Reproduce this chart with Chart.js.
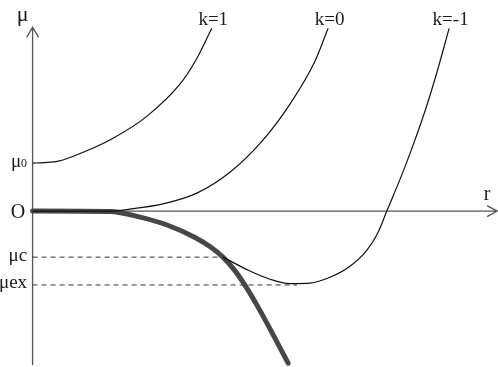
<!DOCTYPE html>
<html>
<head>
<meta charset="utf-8">
<script src="https://cdn.jsdelivr.net/npm/chart.js@4.4.0/dist/chart.umd.min.js"></script>
<style>
  html, body { margin: 0; padding: 0; background: #fff; }
  #wrap { width: 498px; height: 367px; }
</style>
</head>
<body>
<div id="wrap"><canvas id="mu"></canvas></div>
<script>
// values (r along x, mu along y, mu0 = 1)
const rK1 = [0, 0.25, 0.55, 1.02, 1.73, 2.46, 3.17, 3.51, 3.85];
const muK1 = [1.0, 1.01, 1.04, 1.2, 1.52, 1.98, 2.65, 3.15, 3.81];

const rK0 = [0, 1.0, 1.66, 2.09, 2.8, 3.53, 4.24, 4.95, 5.53, 6.07, 6.35];
const muK0 = [0, 0, 0, 0.04, 0.15, 0.375, 0.81, 1.48, 2.23, 3.13, 3.81];

const rKm1 = [4.09, 4.67, 5.1, 5.53, 5.96, 6.39, 6.82, 7.18, 7.42, 7.61, 7.89, 8.17, 8.43, 8.69, 8.95];
const muKm1 = [-0.96, -1.25, -1.42, -1.51, -1.5, -1.38, -1.15, -0.82, -0.45, 0, 0.65, 1.36, 2.08, 2.9, 3.81];

// thick boundary curve
const rEdge = [0, 1.66, 2.31, 2.89, 3.49, 3.81, 4.09, 4.33, 4.56, 4.89, 5.17, 5.49];
const muEdge = [0, -0.01, -0.125, -0.29, -0.55, -0.74, -0.96, -1.22, -1.54, -2.08, -2.58, -3.17];

const muC = -0.96;
const muEx = -1.54;
const rC = 4.09;    // where k=-1 leaves the thick curve
const rEx = 5.68;   // end of the mu_ex guide

const curveLabels = ["k=1", "k=0", "k=-1"];
const curveTops = [[3.85, 3.81], [6.35, 3.81], [8.95, 3.81]];

const tickValues = [1, 0, muC, muEx];
const tickMain = ["\u03bc", "O", "\u03bcc", "\u03bcex"];
const tickSub = ["0", "", "", ""];

const rMax = 9.98;
const muTop = 3.83;
const muBottom = -3.21;

const pts = (xs, ys) => xs.map((x, i) => ({ x: x, y: ys[i] }));

const serif = "'Liberation Serif', 'Times New Roman', serif";

const axesPlugin = {
  id: "axes",
  beforeDatasetsDraw(chart) {
    const ctx = chart.ctx;
    const xs = chart.scales.x, ys = chart.scales.y;
    const x0 = xs.getPixelForValue(0), y0 = ys.getPixelForValue(0);
    const xEnd = xs.getPixelForValue(rMax);
    const yTop = ys.getPixelForValue(muTop), yBot = ys.getPixelForValue(muBottom);
    ctx.save();
    ctx.strokeStyle = "#555";
    ctx.lineWidth = 1.3;
    ctx.beginPath();
    ctx.moveTo(x0, yBot); ctx.lineTo(x0, yTop);
    ctx.moveTo(x0 - 6, yTop + 10); ctx.lineTo(x0, yTop); ctx.lineTo(x0 + 6, yTop + 10);
    ctx.moveTo(x0, y0); ctx.lineTo(xEnd, y0);
    ctx.moveTo(xEnd - 10, y0 - 5.5); ctx.lineTo(xEnd, y0); ctx.lineTo(xEnd - 10, y0 + 5.5);
    ctx.stroke();
    ctx.restore();
  },
  afterDatasetsDraw(chart) {
    const ctx = chart.ctx;
    const xs = chart.scales.x, ys = chart.scales.y;
    const x0 = xs.getPixelForValue(0), y0 = ys.getPixelForValue(0);
    ctx.save();
    ctx.fillStyle = "#1a1a1a";
    ctx.textBaseline = "alphabetic";

    // axis names
    ctx.font = "22px " + serif;
    ctx.textAlign = "center";
    ctx.fillText("\u03bc", x0 - 10, ys.getPixelForValue(muTop) - 6);
    ctx.font = "20px " + serif;
    ctx.fillText("r", xs.getPixelForValue(rMax) - 10, y0 - 11);

    // curve names
    ctx.font = "19px " + serif;
    curveLabels.forEach((t, i) => {
      ctx.fillText(t, xs.getPixelForValue(curveTops[i][0]) + 1.5, ys.getPixelForValue(curveTops[i][1]) - 3);
    });

    // tick labels on mu axis
    tickValues.forEach((v, i) => {
      const py = ys.getPixelForValue(v);
      let right = x0 - 5.5;
      ctx.textAlign = "right";
      if (tickSub[i]) {
        ctx.font = "12px " + serif;
        ctx.fillText(tickSub[i], right, py + 4);
        right -= ctx.measureText(tickSub[i]).width;
      }
      const isO = tickMain[i] === "O";
      ctx.font = (isO ? "20px " : "19px ") + serif;
      ctx.fillText(tickMain[i], isO ? right - 2 : right, isO ? py + 7 : py + 3.5);
    });
    ctx.restore();
  }
};

const thin = { borderColor: "#111", borderWidth: 1.2, pointRadius: 0, showLine: true, cubicInterpolationMode: "monotone", fill: false };
const dash = { borderColor: "#333", borderWidth: 1, borderDash: [5, 4], pointRadius: 0, showLine: true, tension: 0, fill: false };

new Chart(document.getElementById("mu"), {
  type: "scatter",
  data: {
    datasets: [
      Object.assign({ label: "mu_c", data: pts([0, rC], [muC, muC]) }, dash),
      Object.assign({ label: "mu_ex", data: pts([0, rEx], [muEx, muEx]) }, dash),
      Object.assign({ label: "k=1", data: pts(rK1, muK1) }, thin),
      Object.assign({ label: "k=0", data: pts(rK0, muK0) }, thin),
      Object.assign({ label: "k=-1", data: pts(rKm1, muKm1) }, thin),
      {
        label: "edge",
        data: pts(rEdge, muEdge),
        borderColor: "#474747",
        borderWidth: 5,
        borderCapStyle: "round",
        pointRadius: 0,
        showLine: true,
        cubicInterpolationMode: "monotone",
        fill: false
      }
    ]
  },
  options: {
    responsive: true,
    maintainAspectRatio: false,
    animation: false,
    layout: { padding: 0 },
    plugins: { legend: { display: false }, tooltip: { enabled: false } },
    scales: {
      x: { type: "linear", min: -0.7, max: 10, display: false },
      y: { type: "linear", min: -3.25, max: 4.4, display: false }
    }
  },
  plugins: [axesPlugin]
});
</script>
</body>
</html>
